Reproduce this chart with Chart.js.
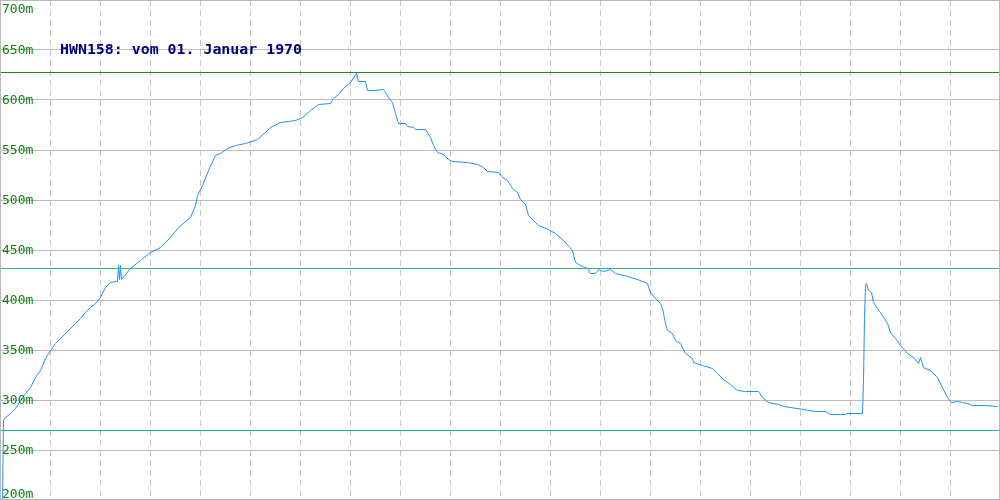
<!DOCTYPE html>
<html>
<head>
<meta charset="utf-8">
<script src="https://cdn.jsdelivr.net/npm/chart.js@4.4.0/dist/chart.umd.js"></script>
<style>
    body { margin: 0; background: #ffffff; }
    canvas { display: block; }
</style>
</head>
<body>
<canvas id="pegel" width="1000" height="500"></canvas>
<script>
// Messreihe HWN158 (Stichprobe / Pegel in m)
const sampleIdx = [2, 3, 4, 10, 15, 20, 25, 30, 35, 40, 45, 50, 55, 60, 65, 70, 75, 80, 85, 90, 95, 100, 105, 110, 116, 117, 118, 119, 120, 121, 125, 130, 140, 150, 160, 170, 178, 190, 195, 197, 202, 208, 215, 220, 227, 235, 245, 257, 265, 270, 280, 288, 295, 302, 310, 318, 330, 333, 338, 343, 350, 356, 358, 365, 367, 373, 383, 388, 392, 395, 398, 405, 407, 413, 415, 425, 430, 433, 437, 443, 448, 452, 467, 477, 483, 487, 498, 502, 507, 512, 517, 520, 525, 528, 533, 538, 548, 555, 563, 572, 575, 580, 587, 590, 595, 598, 603, 610, 615, 627, 637, 647, 650, 656, 660, 662, 665, 667, 672, 675, 680, 685, 692, 693, 702, 712, 717, 723, 730, 737, 745, 758, 762, 768, 778, 783, 790, 803, 815, 825, 830, 845, 846, 862, 863, 864, 865, 866, 868, 871, 873, 877, 882, 887, 890, 895, 900, 907, 913, 918, 920, 923, 930, 937, 942, 947, 951, 957, 962, 967, 972, 985, 997];
const levels = [198, 280, 282, 287, 292, 300, 307, 313, 323, 330, 342, 350, 357, 362, 367, 372, 377, 382, 388, 393, 397, 403, 413, 418, 419, 419, 435, 421, 435, 421, 426, 432, 440, 448, 453, 463, 473, 483, 495, 505, 515, 530, 545, 547, 552, 555, 557, 561, 568, 573, 578, 579, 580, 583, 590, 596, 597, 602, 606, 612, 618, 627, 619, 619, 610, 610, 611, 603, 598, 587, 577, 577, 574, 573, 571, 571, 563, 555, 548, 546, 541, 539, 538, 536, 533, 529, 528, 523, 520, 512, 508, 501, 496, 485, 480, 475, 471, 467, 460, 450, 438, 435, 432, 427, 427, 431, 429, 431, 427, 424, 421, 417, 408, 401, 397, 392, 377, 370, 367, 360, 357, 347, 342, 338, 335, 332, 327, 321, 316, 310, 309, 309, 303, 298, 296, 294, 293, 291, 289, 289, 286, 286, 287, 287, 320, 382, 415, 417, 410, 408, 398, 392, 385, 377, 368, 362, 355, 347, 343, 337, 343, 333, 330, 323, 313, 303, 298, 299, 298, 297, 295, 295, 294];

// Grenzwerte (m)
const limitNames = ['oben', 'mitte', 'unten'];
const limitValues = [628, 432, 270];
const limitColors = ['#1a8a1a', '#3cb371', '#20b2aa'];

// Achse
const yTicks = [200, 250, 300, 350, 400, 450, 500, 550, 600, 650, 700];
const xRange = [0, 1000];
const titleText = 'HWN158: vom 01. Januar 1970';

const points = sampleIdx.map((x, i) => ({ x: x, y: levels[i] }));

const limitSets = limitValues.map((v, i) => ({
    label: limitNames[i],
    data: [{ x: xRange[0], y: v }, { x: xRange[1], y: v }],
    borderColor: limitColors[i],
    backgroundColor: limitColors[i],
    borderWidth: 1,
    pointRadius: 0,
    fill: false
}));

// halbe Pixel Versatz, damit die 1px-Linien scharf bleiben
const crispLines = {
    id: 'crispLines',
    beforeDatasetsDraw(chart) {
        chart.ctx.save();
        chart.ctx.translate(0.5, 0.5);
    },
    afterDatasetsDraw(chart) {
        chart.ctx.restore();
    }
};

// Rahmen, Achsenbeschriftung und Titel
const pegelDecor = {
    id: 'pegelDecor',
    afterDraw(chart) {
        const ctx = chart.ctx;
        const area = chart.chartArea;
        const yScale = chart.scales.y;

        ctx.save();
        ctx.strokeStyle = '#b8b8b8';
        ctx.lineWidth = 1;
        ctx.strokeRect(area.left + 0.5, area.top + 0.5, area.right - area.left - 1, area.bottom - area.top - 1);

        ctx.font = '13px "DejaVu Sans Mono", monospace';
        ctx.fillStyle = '#0c880c';
        ctx.textBaseline = 'alphabetic';
        ctx.textAlign = 'left';
        yTicks.forEach(v => {
            const py = yScale.getPixelForValue(v);
            const base = Math.min(Math.max(py + 4, area.top + 13), area.bottom - 2);
            ctx.fillText(v + 'm', area.left + 2, base);
        });

        ctx.font = 'bold 14.9px "DejaVu Sans Mono", monospace';
        ctx.fillStyle = '#000080';
        ctx.fillText(titleText, area.left + 60, area.top + 54);
        ctx.restore();
    }
};

new Chart(document.getElementById('pegel'), {
    type: 'line',
    data: {
        datasets: [
            ...limitSets,
            {
                label: 'HWN158',
                data: points,
                borderColor: '#1e90ff',
                backgroundColor: '#1e90ff',
                borderWidth: 1,
                pointRadius: 0,
                tension: 0,
                fill: false
            }
        ]
    },
    options: {
        responsive: false,
        animation: false,
        devicePixelRatio: 1,
        layout: { padding: 0 },
        plugins: {
            legend: { display: false },
            title: { display: false },
            tooltip: { enabled: false }
        },
        scales: {
            x: {
                type: 'linear',
                min: xRange[0],
                max: xRange[1],
                ticks: { display: false, stepSize: 50 },
                grid: { color: '#c4c4c4', drawTicks: false },
                border: { display: false, dash: [6, 4] }
            },
            y: {
                type: 'linear',
                min: yTicks[0],
                max: yTicks[yTicks.length - 1],
                ticks: { display: false, stepSize: 50 },
                grid: { color: '#bcbcbc', drawTicks: false },
                border: { display: false }
            }
        }
    },
    plugins: [crispLines, pegelDecor]
});
</script>
</body>
</html>
